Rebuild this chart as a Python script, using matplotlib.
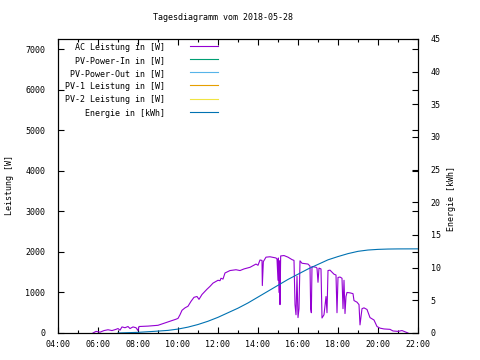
import numpy as np
import pandas as pd
import matplotlib
matplotlib.use('Agg')
import matplotlib.pyplot as plt
import matplotlib.dates as mdates

day = '2018-05-28'
title = 'Tagesdiagramm vom ' + day

# AC Leistung [W]
ac_time = ['05:45', '05:54', '06:06', '06:18', '06:30', '06:42', '06:54', '07:00', '07:06', '07:12',
           '07:21', '07:30', '07:36', '07:45', '07:54', '08:00', '08:03', '08:30', '09:00', '09:18',
           '09:36', '09:54', '10:00', '10:06', '10:12', '10:21', '10:30', '10:39', '10:48', '10:57',
           '11:03', '11:12', '11:27', '11:36', '11:45', '12:00', '12:06', '12:09', '12:15', '12:21',
           '12:36', '12:54', '13:06', '13:18', '13:36', '13:54', '14:00', '14:06', '14:12', '14:13',
           '14:16', '14:24', '14:36', '14:54', '14:57', '15:00', '15:01', '15:03', '15:05', '15:06',
           '15:08', '15:18', '15:30', '15:42', '15:48', '15:51', '15:54', '15:57', '16:00', '16:03',
           '16:06', '16:12', '16:30', '16:36', '16:38', '16:40', '16:42', '16:54', '16:57', '17:00',
           '17:03', '17:09', '17:12', '17:18', '17:24', '17:27', '17:30', '17:36', '17:48', '17:54',
           '17:57', '18:00', '18:06', '18:12', '18:15', '18:18', '18:21', '18:24', '18:27', '18:36',
           '18:45', '18:48', '18:57', '19:03', '19:06', '19:12', '19:18', '19:27', '19:36', '19:48',
           '19:57', '20:06', '20:18', '20:36', '20:45', '21:00', '21:12', '21:24', '21:30']
ac_power = [0, 40, 20, 60, 80, 60, 90, 110, 70, 150,
            130, 160, 110, 150, 130, 60, 160, 170, 190, 240,
            290, 340, 360, 450, 560, 620, 660, 780, 880, 900,
            830, 950, 1080, 1150, 1230, 1300, 1290, 1350, 1330, 1480,
            1540, 1560, 1540, 1580, 1620, 1700, 1670, 1800, 1790, 1170,
            1760, 1870, 1880, 1850, 1820, 1300, 1850, 1000, 1780, 700,
            1900, 1910, 1870, 1810, 1790, 700, 450, 1400, 380, 600,
            1780, 1720, 1700, 1650, 600, 500, 1640, 1620, 1600, 1250,
            1600, 1580, 370, 450, 900, 500, 1540, 1550, 1450, 1430,
            500, 1370, 1380, 1350, 600, 1300, 480, 900, 1000, 990,
            970, 800, 760, 700, 200, 600, 620, 580, 380, 320,
            160, 120, 100, 90, 50, 40, 60, 20, 0]

# Energie [kWh]
en_time = ['07:00', '08:00', '08:48', '09:30', '10:00', '10:30', '11:00', '11:30', '12:00', '12:30',
           '13:00', '13:30', '14:00', '14:30', '15:00', '15:30', '16:00', '16:30', '17:00', '17:30',
           '18:00', '18:30', '19:00', '19:30', '20:00', '20:30', '21:00', '22:00']
energy = [0, 0.1, 0.25, 0.4, 0.6, 0.9, 1.3, 1.8, 2.4, 3.1,
          3.8, 4.6, 5.5, 6.4, 7.3, 8.2, 9.0, 9.8, 10.5, 11.2,
          11.7, 12.15, 12.5, 12.7, 12.8, 12.85, 12.87, 12.88]

labels = ['AC Leistung in [W]', 'PV-Power-In in [W]', 'PV-Power-Out in [W]',
          'PV-1 Leistung in [W]', 'PV-2 Leistung in [W]', 'Energie in [kWh]']
colors = ['#9400d3', '#009e73', '#56b4e9', '#e69f00', '#f0e442', '#0072b2']

plt.rcParams['font.family'] = ['DejaVu Sans Mono']
plt.rcParams['font.size'] = 6

ac_t = pd.to_datetime([day + ' ' + t for t in ac_time])
en_t = pd.to_datetime([day + ' ' + t for t in en_time])

fig = plt.figure(figsize=(4.8, 3.6), dpi=100)
ax = fig.add_axes([58/480, 1 - 333/360, 360/480, 294/360])
ax2 = ax.twinx()

ax.plot(ac_t, ac_power, color=colors[0], lw=0.8)
# the PV series have no data on this day
for c in colors[1:5]:
    ax.plot([], [], color=c, lw=0.8)
ax2.plot(en_t, energy, color=colors[5], lw=0.8)

ax.set_xlim(pd.Timestamp(day + ' 04:00'), pd.Timestamp(day + ' 22:00'))
ax.set_ylim(0, 7250)
ax2.set_ylim(0, 45)
ax.set_yticks(np.arange(0, 7001, 1000))
ax2.set_yticks(np.arange(0, 46, 5))
ax.xaxis.set_major_locator(mdates.HourLocator(interval=2))
ax.xaxis.set_minor_locator(mdates.HourLocator(interval=1))
ax.xaxis.set_major_formatter(mdates.DateFormatter('%H:%M'))

ax.tick_params(axis='both', which='major', direction='in', length=4, width=0.8, top=True)
ax.tick_params(axis='x', which='minor', direction='in', length=2, width=0.8, top=True)
ax.tick_params(axis='y', right=True, pad=9)
ax.tick_params(axis='x', pad=5)
ax2.tick_params(axis='y', direction='in', length=4, width=0.8, pad=9)
for a in (ax, ax2):
    for s in a.spines.values():
        s.set_linewidth(0.8)

# legend in gnuplot style: text right aligned, sample on the right
for i, (lab, c) in enumerate(zip(labels, colors)):
    py = 47 + 13.2 * i
    y = 1 - (py - 39) / 294
    ax.text(0.297, y, lab, transform=ax.transAxes, ha='right', va='center')
    ax.plot([0.367, 0.444], [y + 0.004, y + 0.004], transform=ax.transAxes,
            color=c, lw=0.8, clip_on=False)

fig.text(223/480, 1 - 17/360, title, ha='center', va='center')
fig.text(10/480, 1 - 185/360, 'Leistung [W]', rotation=90, ha='center', va='center')
fig.text(452/480, 1 - 198/360, 'Energie [kWh]', rotation=90, ha='center', va='center')

fig.savefig('out.png', dpi=100)
